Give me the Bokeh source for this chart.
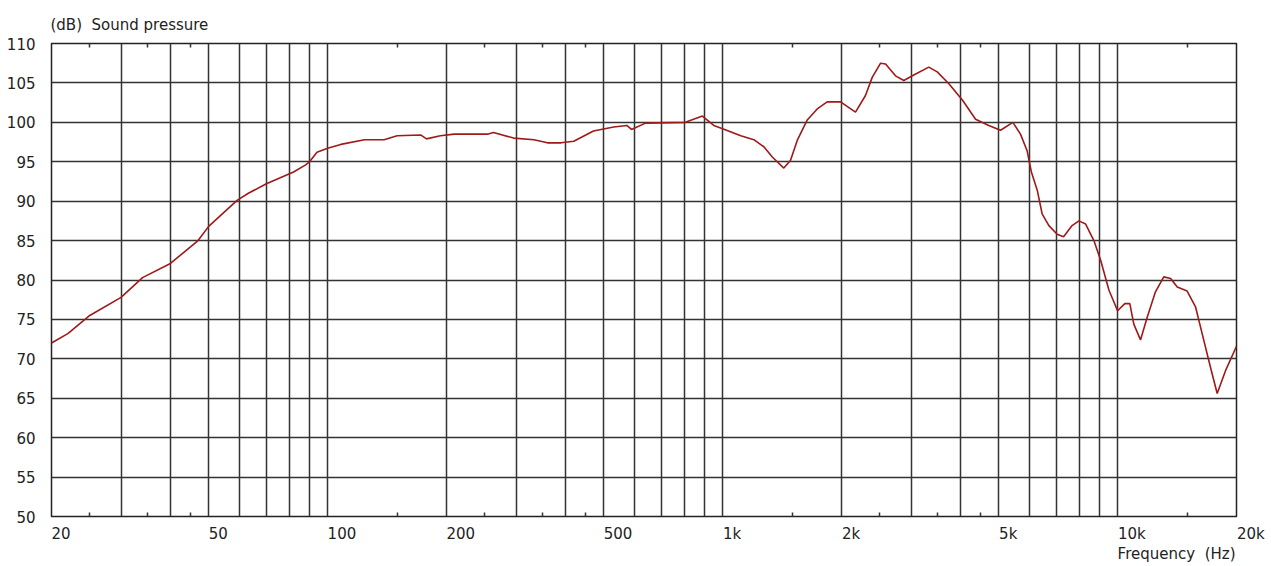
from bokeh.plotting import figure
from bokeh.models import FixedTicker, LogAxis, Title, Range1d
from bokeh.embed import file_html
from bokeh.resources import INLINE

# ---- data ----
freq_hz = [20, 22, 25, 30, 34, 40, 47, 50, 55, 59, 63, 70, 82, 88, 90, 94, 100,
           108, 124, 139, 150, 172, 178, 193, 209, 254, 263, 296, 333, 360, 390,
           420, 471, 530, 572, 588, 638, 805, 889, 950, 1000, 1112, 1200, 1272,
           1336, 1429, 1486, 1545, 1638, 1736, 1840, 1989, 2170, 2300, 2392, 2512,
           2586, 2740, 2876, 3048, 3327, 3495, 3740, 4050, 4370, 4720, 5054, 5430,
           5677, 5900, 6050, 6260, 6440, 6700, 7030, 7300, 7670, 7980, 8300, 8710,
           9060, 9510, 10000, 10430, 10740, 10990, 11430, 11890, 12470, 13090,
           13620, 14160, 15000, 15750, 16370, 17190, 17870, 18760, 20000]
spl_db = [72.0, 73.2, 75.5, 77.8, 80.3, 82.1, 85.0, 86.8, 88.7, 90.1, 91.0, 92.2,
          93.7, 94.6, 95.0, 96.2, 96.7, 97.2, 97.8, 97.8, 98.3, 98.4, 97.9, 98.3,
          98.5, 98.5, 98.7, 98.0, 97.8, 97.4, 97.4, 97.6, 98.9, 99.4, 99.6, 99.1,
          99.9, 100.0, 100.8, 99.6, 99.2, 98.3, 97.8, 96.9, 95.6, 94.2, 95.2, 97.7,
          100.3, 101.7, 102.6, 102.6, 101.3, 103.4, 105.7, 107.5, 107.4, 105.9,
          105.3, 106.0, 107.0, 106.4, 104.9, 102.8, 100.4, 99.6, 99.0, 100.0, 98.5,
          96.4, 93.7, 91.4, 88.4, 86.9, 85.8, 85.5, 86.9, 87.5, 87.1, 85.0, 82.5,
          78.7, 76.1, 77.0, 77.0, 74.4, 72.4, 75.3, 78.5, 80.4, 80.2, 79.1, 78.6,
          76.6, 73.2, 68.9, 65.6, 68.5, 71.6]

x_label_ticks = [20, 50, 100, 200, 500, 1000, 2000, 5000, 10000, 20000]
x_label_texts = ["20", "50", "100", "200", "500", "1k", "2k", "5k", "10k", "20k"]
x_grid_ticks = [30, 40, 50, 60, 70, 80, 90, 100,
                200, 300, 400, 500, 600, 700, 800, 900, 1000,
                2000, 3000, 4000, 5000, 6000, 7000, 8000, 9000, 10000]
x_minor_ticks = [25, 35, 45, 150, 250, 350, 450, 1500, 2500, 3500, 4500, 15000]
y_ticks = [50, 55, 60, 65, 70, 75, 80, 85, 90, 95, 100, 105, 110]

title_text = "(dB) \u00a0Sound pressure"
xlabel_text = "Frequency \u00a0(Hz)"

# ---- style ----
FONT = "DejaVu Sans"
TXT = "#222222"
GRID = "#333333"
CURVE = "#9e1a1a"
FS = "15px"

p = figure(width=1266, height=566, x_axis_type="log",
           x_range=Range1d(20, 20000), y_range=Range1d(50, 110),
           output_backend="svg", toolbar_location=None,
           min_border_left=51, min_border_right=30,
           min_border_top=43, min_border_bottom=50)
p.background_fill_color = "white"
p.border_fill_color = "white"
p.outline_line_color = "#222222"
p.outline_line_width = 1.5

# title top-left
p.title.text = title_text
p.title.align = "left"
p.title.text_font = FONT
p.title.text_font_size = FS
p.title.text_font_style = "normal"
p.title.text_color = TXT
p.title.offset = -1
p.title.standoff = 20
p.title.text_line_height = 0.6

# x axis (bottom); labels start at their tick (padding on the left with figure spaces)
xa = p.xaxis[0]
xa.ticker = FixedTicker(ticks=x_label_ticks, minor_ticks=x_minor_ticks)
xa.major_label_overrides = {t: "\u2007" * len(s) + s
                            for t, s in zip(x_label_ticks, x_label_texts)}
xa.major_label_text_font = FONT
xa.major_label_text_font_size = FS
xa.major_label_text_color = TXT
xa.major_label_standoff = 2
xa.major_tick_line_color = None
xa.minor_tick_in = 4
xa.minor_tick_out = 0
xa.minor_tick_line_color = "#333333"
xa.minor_tick_line_width = 1.5
xa.axis_line_color = None

# frequency label below the axis, right-aligned to the frame
p.add_layout(Title(text=xlabel_text, align="right", text_font=FONT,
                   text_font_size=FS, text_font_style="normal",
                   text_color=TXT, standoff=-6, offset=1), "below")

# top axis with inside minor ticks only
top = LogAxis(ticker=FixedTicker(ticks=[], minor_ticks=x_minor_ticks))
top.major_label_text_font_size = "0px"
top.major_label_standoff = 0
top.axis_label_standoff = 0
top.major_tick_line_color = None
top.minor_tick_in = 4
top.minor_tick_out = 0
top.minor_tick_line_color = "#333333"
top.minor_tick_line_width = 1.5
top.axis_line_color = None
p.add_layout(top, "above")

# y axis
ya = p.yaxis[0]
ya.ticker = FixedTicker(ticks=y_ticks)
ya.major_label_text_font = FONT
ya.major_label_text_font_size = FS
ya.major_label_text_color = TXT
ya.major_label_standoff = 10
ya.major_tick_line_color = None
ya.minor_tick_line_color = None
ya.axis_line_color = None

# grid
p.xgrid.ticker = FixedTicker(ticks=x_grid_ticks)
p.xgrid.grid_line_color = GRID
p.xgrid.grid_line_width = 1.5
p.ygrid.ticker = FixedTicker(ticks=y_ticks)
p.ygrid.grid_line_color = GRID
p.ygrid.grid_line_width = 1.5

# curve
p.line(freq_hz, spl_db, line_color=CURVE, line_width=1.6)

open("out.html", "w").write(file_html(p, INLINE))
